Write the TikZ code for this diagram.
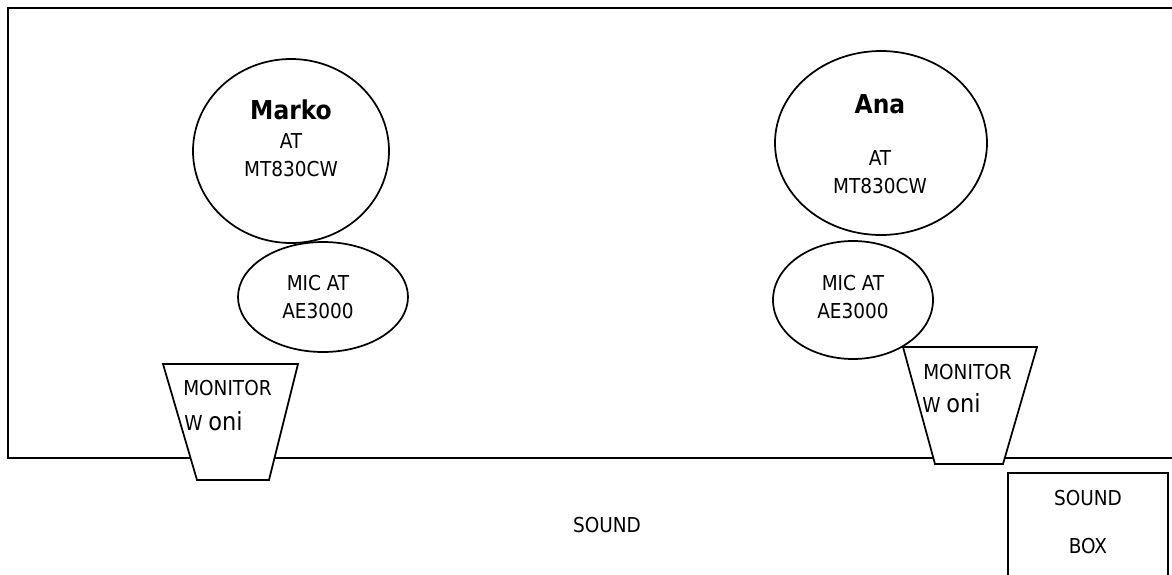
\documentclass[tikz,border=0pt]{standalone}
\usepackage{fontspec}
\setmainfont{DejaVu Sans Condensed}
\begin{document}
\begin{tikzpicture}[x=0.75pt,y=-0.75pt,
  outline/.style={draw=black,line width=1.3pt},
  txt/.style={anchor=base,inner sep=0pt,font=\fontsize{15.4}{18}\selectfont},
  bigtxt/.style={anchor=base,inner sep=0pt,font=\fontsize{19.5}{22}\selectfont\bfseries},
  lefttxt/.style={anchor=base west,inner sep=0pt,font=\fontsize{15.4}{18}\selectfont}]
\useasboundingbox (0,0) rectangle (1172,575);
% stage
\draw[outline] (1180,8) -- (8,8) -- (8,458) -- (1180,458);
% sound box
\draw[outline] (1008,590) -- (1008,473) -- (1168,473) -- (1168,590);
% Marko
\draw[outline] (291,151) ellipse [x radius=98,y radius=92];
\draw[outline] (323,297) ellipse [x radius=85,y radius=55];
% Ana
\draw[outline] (881,143) ellipse [x radius=106,y radius=92];
\draw[outline] (853,300) ellipse [x radius=80,y radius=59];
% monitors
\draw[outline,fill=white] (163,364) -- (298,364) -- (269,480) -- (197,480) -- cycle;
\draw[outline,fill=white] (903,347) -- (1037,347) -- (1003,464) -- (935,464) -- cycle;
% texts
\node[bigtxt] (marko) at (291,119) {Marko};
\node[txt] (markoat) at (291,148) {AT};
\node[txt] (markomt) at (291,176) {MT830CW};
\node[bigtxt] (ana) at (880,113) {Ana};
\node[txt] (anaat) at (880,165) {AT};
\node[txt] (anamt) at (880,193) {MT830CW};
\node[txt] (mic1a) at (318,290) {MIC AT};
\node[txt] (mic1b) at (318,318) {AE3000};
\node[txt] (mic2a) at (853,290) {MIC AT};
\node[txt] (mic2b) at (853,318) {AE3000};
\node[lefttxt] (mon1) at (183,395) {MONITOR};
\node[lefttxt] (mon1b) at (184,430) {W \fontsize{18.75}{21}\selectfont oni};
\node[lefttxt] (mon2) at (923,379) {MONITOR};
\node[lefttxt] (mon2b) at (922,412) {W \fontsize{18.75}{21}\selectfont oni};
\node[txt] (sound) at (607,532) {SOUND};
\node[txt] (sb1) at (1088,505) {SOUND};
\node[txt] (sb2) at (1088,553) {BOX};
\end{tikzpicture}
\end{document}
